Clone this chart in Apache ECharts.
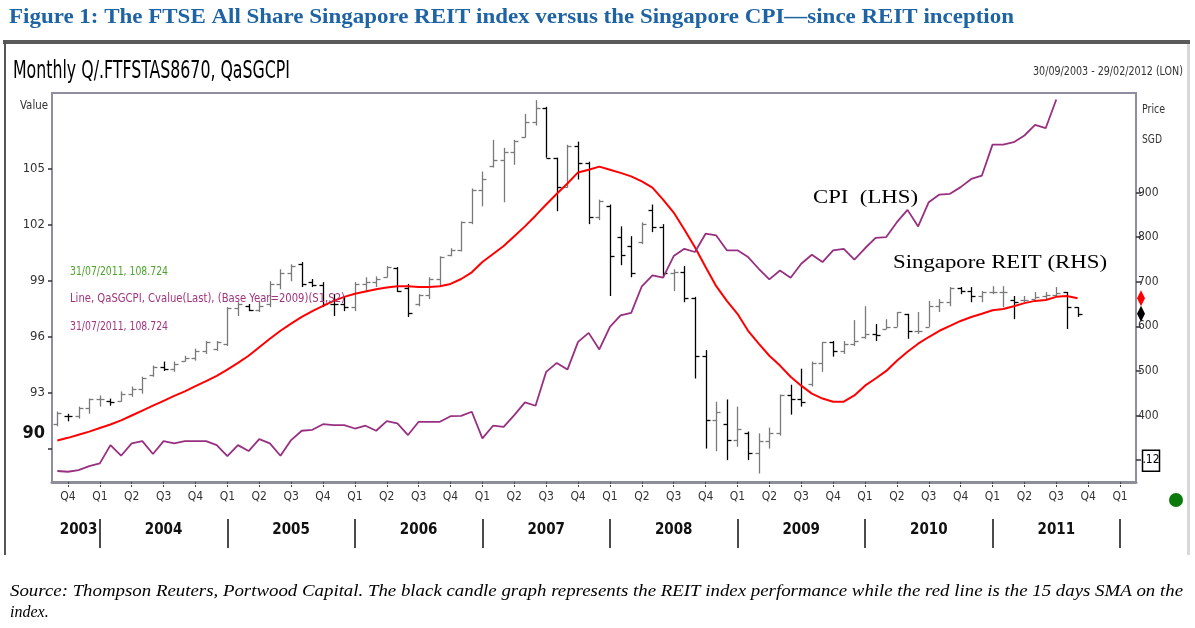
<!DOCTYPE html>
<html><head><meta charset="utf-8">
<script src="https://cdn.jsdelivr.net/npm/echarts@6/dist/echarts.min.js"></script>
<style>html,body{margin:0;padding:0;background:#fff}#c{width:1195px;height:628px}</style>
</head><body><div id="c"></div>
<script>
// ---------- categories (months Sep 2003 .. Feb 2012) ----------
const firstYear = 2003, firstMonth = 9, monthCount = 102;
const months = [];
for (let k = 0; k < monthCount; k++) {
  const m0 = firstMonth - 1 + k;
  months.push((firstYear + Math.floor(m0 / 12)) + '-' + String(m0 % 12 + 1).padStart(2, '0'));
}
// ---------- tick labels ----------
const cpiTicks = [90, 93, 96, 99, 102, 105];
const priceTicks = [300, 400, 500, 600, 700, 800, 900];
const quarterNames = { '01': 'Q1', '04': 'Q2', '07': 'Q3', '10': 'Q4' };
// ---------- REIT monthly bars (right axis, SGD) ----------
const reitOpen = [380,400,398,418,436,432,432,449,460,490, 508,505,522,528,545,550,560,640,645,637,
  650,695,720,740,700,693,650,649,643,695, 700,710,730,685,650,670,705,760,771,833,
  905,960,973,991,1025,1058,1090,978,913,1005, 967,844,870,800,780,790,860,822,720,722,
  663,534,391,380,345,360,317,343,360,445, 438,470,518,565,545,560,575,583,594,599,
  628,590,599,645,655,686,680,668,677,677, 660,660,662,668,670,677,643];
const reitClose = [405,398,418,436,438,430,449,460,485,508, 505,515,528,545,565,565,640,650,637,645,
  695,720,735,695,693,650,649,643,695,700, 705,732,680,630,670,705,755,771,833,905,
  930,973,991,1015,1058,1090,978,913,1005,967, 844,880,757,760,720,830,822,720,722,663,
  534,391,409,345,370,317,343,360,445,438, 431,518,565,545,560,567,583,580,599,632,
  590,590,645,655,686,680,668,677,677,677, 655,660,666,670,675,643,628];
const reitLow = [376,387,393,404,420,422,431,442,449,487, 500,498,521,523,538,545,556,623,634,632,
  643,683,701,688,688,643,623,634,634,679, 688,710,677,621,645,661,690,757,768,829,
  869,956,878,962,1023,1050,978,858,911,929, 829,838,668,737,710,784,811,710,679,654,
  483,326,320,300,330,300,270,326,355,402, 420,465,498,532,538,556,572,567,594,599,
  572,583,599,632,645,672,654,654,672,643, 616,654,661,661,668,594,621];
const reitHigh = [409,404,420,438,445,438,454,465,487,512, 521,521,534,550,567,567,643,654,650,657,
  701,728,739,744,706,699,672,666,699,710, 712,735,733,695,672,710,757,775,835,909,
  947,1018,1000,1018,1076,1107,1092,978,1007,1014, 969,884,873,824,802,833,873,829,728,735,
  666,547,431,436,420,364,360,373,447,469, 505,521,565,567,567,614,645,605,616,632,
  628,632,657,661,688,688,688,679,690,690, 668,668,677,677,688,677,643];
// ---------- 15-period SMA of the REIT index (right axis) ----------
const reitSMA = [344,350,357,364,372,380,389,400,411,422, 433,444,454,466,477,489,503,518,534,553,
  572,590,606,621,634,646,657,666,673,678, 683,687,690,690,688,688,690,695,706,721,
  744,762,780,802,824,848,873,897,920,945, 951,958,951,944,936,925,911,884,855,817,
  777,733,690,657,628,590,561,534,512,487, 467,449,438,431,431,445,467,483,500,523,
  543,561,576,590,601,612,621,628,636,639, 645,652,657,659,666,668,663];
// ---------- Singapore CPI, base 2009 (left axis) ----------
const cpi = [88.79,88.75,88.84,89.05,89.20,90.18,89.61,90.27,90.39,89.70,
  90.39,90.27,90.39,90.39,90.39,90.18,89.59,90.18,89.86,90.50,
  90.27,89.61,90.45,90.95,91.00,91.30,91.25,91.25,91.07,91.22,
  90.95,91.47,91.34,90.72,91.43,91.43,91.43,91.73,91.75,91.97,
  90.54,91.22,91.16,91.79,92.47,92.29,94.11,94.59,94.23,95.72,
  96.20,95.31,96.52,97.14,97.27,98.70,99.29,99.16,100.32,100.71,
  100.54,101.52,101.43,100.63,100.63,100.27,99.64,99.07,99.55,99.16,
  99.91,100.39,100.00,100.63,100.71,100.13,100.74,101.30,101.34,102.14,
  102.80,101.91,103.21,103.62,103.66,104.02,104.46,104.64,106.30,106.30,
  106.43,106.79,107.36,107.18,108.724];

const NARROW = "'Liberation Sans Narrow','Arial Narrow','DejaVu Sans Condensed',sans-serif";
const SERIF = "'Liberation Serif','Times New Roman',serif";
const CPI_COLOR = '#982f80';

const ohlcData = reitOpen.map((o, i) => [i, o, reitClose[i], reitLow[i], reitHigh[i]]);

function renderOHLC(params, api) {
  const i = api.value(0);
  const o = api.coord([i, api.value(1)]);
  const c = api.coord([i, api.value(2)]);
  const l = api.coord([i, api.value(3)]);
  const h = api.coord([i, api.value(4)]);
  const x = Math.round(o[0]) + 0.5;
  const col = api.value(2) >= api.value(1) ? '#7a7a7a' : '#000';
  return { type: 'group', children: [
    { type: 'line', shape: { x1: x, y1: h[1], x2: x, y2: l[1] }, style: { stroke: col, lineWidth: 1.3 } },
    { type: 'line', shape: { x1: x - 4, y1: Math.round(o[1]) + 0.5, x2: x, y2: Math.round(o[1]) + 0.5 }, style: { stroke: col, lineWidth: 1.3 } },
    { type: 'line', shape: { x1: x, y1: Math.round(c[1]) + 0.5, x2: x + 4, y2: Math.round(c[1]) + 0.5 }, style: { stroke: col, lineWidth: 1.3 } }
  ]};
}
const isQuarterStart = (idx, v) => quarterNames[v.slice(5)] !== undefined;
const isJan = (idx, v) => v.slice(5) === '01';
const isYearLabel = (idx, v) => v === '2003-11' || (v.slice(5) === '07' && +v.slice(0, 4) <= 2011);

const chart = echarts.init(document.getElementById('c'), null, { renderer: 'canvas', width: 1195, height: 628 });
chart.setOption({
  backgroundColor: '#fff',
  animation: false,
  grid: { left: 52, top: 93, width: 1084, height: 389, show: true, borderColor: '#8e8ea0', borderWidth: 2, backgroundColor: '#fff' },
  xAxis: [
    { type: 'category', data: months, boundaryGap: true,
      axisLine: { show: true, lineStyle: { color: '#8e8e98', width: 3 } },
      axisTick: { show: true, alignWithLabel: true, interval: isQuarterStart, length: 6, lineStyle: { color: '#444', width: 1, type: [2, 1] } },
      axisLabel: { interval: isQuarterStart, formatter: v => quarterNames[v.slice(5)], margin: 9, fontFamily: NARROW, fontSize: 12, color: '#333' },
      splitLine: { show: false } },
    { type: 'category', data: months, boundaryGap: true, position: 'bottom', offset: 37,
      axisLine: { show: false },
      axisTick: { show: true, alignWithLabel: true, interval: isJan, length: 29, lineStyle: { color: '#111', width: 1.5 } },
      axisLabel: { interval: isYearLabel, formatter: v => v.slice(0, 4), margin: 4, fontFamily: NARROW, fontWeight: 'bold', fontSize: 15, color: '#111' },
      splitLine: { show: false } }
  ],
  yAxis: [
    { type: 'value', position: 'left', min: 88.2, max: 109.07,
      axisLine: { show: false }, splitLine: { show: false },
      axisTick: { show: true, length: 4, customValues: cpiTicks, lineStyle: { color: '#333', width: 1.5 } },
      axisLabel: { customValues: cpiTicks, margin: 7, fontFamily: NARROW, fontSize: 13, color: '#333',
        formatter: v => v === 90 ? '{b|90}' : String(v),
        rich: { b: { fontWeight: 'bold', fontSize: 18, fontFamily: NARROW, color: '#111', padding: [0, 0, 30, 0] } } } },
    { type: 'value', position: 'right', min: 251, max: 1123,
      axisLine: { show: false }, splitLine: { show: false },
      axisTick: { show: true, length: 5, customValues: priceTicks, lineStyle: { color: '#333', width: 1.5 } },
      axisLabel: { customValues: priceTicks, margin: 2, fontFamily: NARROW, fontSize: 12, color: '#333',
        formatter: v => v === 300 ? '' : String(v) } }
  ],
  series: [
    { type: 'custom', name: 'REIT', xAxisIndex: 0, yAxisIndex: 1, renderItem: renderOHLC, data: ohlcData,
      encode: { x: 0, y: [1, 2, 3, 4] }, clip: true, z: 2 },
    { type: 'line', name: 'SMA', xAxisIndex: 0, yAxisIndex: 1, data: reitSMA, symbol: 'none',
      lineStyle: { color: '#ff0000', width: 2 }, z: 3 },
    { type: 'line', name: 'CPI', xAxisIndex: 0, yAxisIndex: 0, data: cpi, symbol: 'none',
      lineStyle: { color: CPI_COLOR, width: 1.8 }, z: 4 }
  ]
});

// ---------- text helpers ----------
const mctx = document.createElement('canvas').getContext('2d');
function fitScale(text, font, target) { mctx.font = font; return target / mctx.measureText(text).width; }
function txt(text, x, y, o) {
  const font = (o.style || 'normal') + ' ' + (o.weight || 'normal') + ' ' + o.size + 'px ' + o.family;
  const sx = o.width ? fitScale(text, font, o.width) : (o.sx || 1);
  return { type: 'text', x: x, y: y, scaleX: sx, z: 100, silent: true,
    style: { text: text, x: 0, y: 0, font: font, fill: o.color || '#000', textAlign: o.align || 'left', textVerticalAlign: 'middle' } };
}

const gridRight = 52 + 1084;
const yRed = chart.convertToPixel({ yAxisIndex: 1 }, reitSMA[reitSMA.length - 1]);
const yBlack = chart.convertToPixel({ yAxisIndex: 1 }, reitClose[reitClose.length - 1]);
const y300 = chart.convertToPixel({ yAxisIndex: 1 }, 300);
function diamond(cx, cy, color) {
  return { type: 'polygon', z: 100, silent: true, shape: { points: [[cx, cy - 8], [cx + 4, cy], [cx, cy + 8], [cx - 4, cy]] }, style: { fill: color } };
}

chart.setOption({
  graphic: [
    txt('Figure 1: The FTSE All Share Singapore REIT index versus the Singapore CPI\u2014since REIT inception', 9, 17,
      { size: 22, weight: 'bold', family: SERIF, color: '#1e63a3', width: 1005 }),
    { type: 'rect', z: 90, silent: true, shape: { x: 3, y: 40, width: 1187, height: 4 }, style: { fill: '#5a5a5a' } },
    { type: 'rect', z: 90, silent: true, shape: { x: 4, y: 40, width: 2, height: 515 }, style: { fill: '#555' } },
    { type: 'rect', z: 90, silent: true, shape: { x: 1187, y: 44, width: 3, height: 511 }, style: { fill: '#d8d8d8' } },
    txt('Monthly Q/.FTFSTAS8670, QaSGCPI', 13, 72, { size: 24, family: NARROW, color: '#000', width: 277 }),
    txt('30/09/2003 - 29/02/2012 (LON)', 1183, 72, { size: 13, family: NARROW, color: '#333', align: 'right', width: 150 }),
    txt('Value', 20, 106, { size: 13, family: NARROW, color: '#333', width: 28 }),
    txt('Price', 1142, 110, { size: 13, family: NARROW, color: '#333', width: 23 }),
    txt('SGD', 1142, 140, { size: 13, family: NARROW, color: '#333', width: 20 }),
    txt('31/07/2011, 108.724', 70, 272, { size: 13, family: NARROW, color: '#4ca22a', width: 98 }),
    txt('Line, QaSGCPI, Cvalue(Last), (Base Year=2009)(S1,S2)', 70, 299, { size: 13, family: NARROW, color: '#a2347e', width: 275 }),
    txt('31/07/2011, 108.724', 70, 327, { size: 13, family: NARROW, color: '#a2347e', width: 98 }),
    txt('CPI  (LHS)', 813, 198, { size: 19, family: SERIF, color: '#000', width: 105 }),
    txt('Singapore REIT (RHS)', 893, 263, { size: 19, family: SERIF, color: '#000', width: 214 }),
    diamond(gridRight + 5, yRed, '#ff0000'),
    diamond(gridRight + 5, yBlack, '#000'),
    { type: 'rect', z: 100, silent: true, shape: { x: 1142.5, y: y300 - 10, width: 17, height: 21 }, style: { fill: '#fff', stroke: '#000', lineWidth: 1.5 } },
    txt('.12', 1151, y300, { size: 12, family: NARROW, color: '#000', align: 'center' }),
    { type: 'circle', z: 100, silent: true, shape: { cx: 1176, cy: 500, r: 7 }, style: { fill: '#0b7a0b' } },
    txt('Source: Thompson Reuters, Portwood Capital. The black candle graph represents the REIT index performance while the red line is the 15 days SMA on the', 10, 592,
      { size: 16, style: 'italic', family: SERIF, color: '#000', width: 1173 }),
    txt('index.', 10, 613, { size: 16, style: 'italic', family: SERIF, color: '#000' })
  ]
});
</script>
</body></html>
